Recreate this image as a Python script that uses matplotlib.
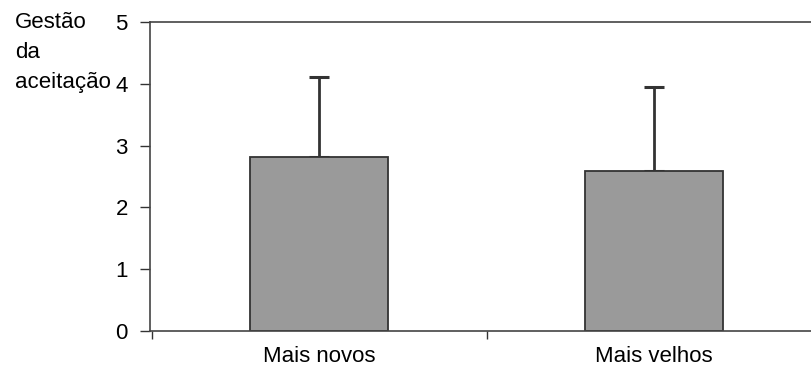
import matplotlib
matplotlib.use("Agg")
import matplotlib.pyplot as plt
import numpy as np

categories = ["Mais novos", "Mais velhos"]
means = [2.82, 2.59]
errors = [1.29, 1.36]
yticks = [0, 1, 2, 3, 4, 5]
ylabel = "Gestão\nda\naceitação"

plt.rcParams['font.family'] = ['Liberation Sans', 'DejaVu Sans']

fig = plt.figure(figsize=(8.11, 3.72), dpi=100)
W, H = 811, 372
left, right, top, bottom = 150, 811, 22, 331
ax = fig.add_axes([left / W, 1 - bottom / H, (right - left) / W, (bottom - top) / H])

x = np.arange(len(categories))
ax.bar(x, means, width=0.41, color='#9a9a9a', edgecolor='#333333', linewidth=1.3, zorder=2)
ax.errorbar(x, means, yerr=[np.zeros(len(means)), errors], fmt='none',
            ecolor='#333333', elinewidth=2, capsize=7, capthick=2.2, zorder=1)

cat_w = 335.0
ax.set_xlim(-0.5 - 1.5 / cat_w, -0.5 - 1.5 / cat_w + (right - left) / cat_w)
ax.set_ylim(0, 5)
ax.set_yticks(yticks)
ax.set_yticklabels([str(t) for t in yticks], fontsize=16)
ax.set_xticks(x)
ax.set_xticklabels(categories, fontsize=16)
ax.tick_params(axis='x', length=0, pad=11)
ax.set_xticks([-0.5, 0.5], minor=True)
ax.tick_params(axis='x', which='minor', length=6, width=1, direction='out', color='#333333')
ax.tick_params(axis='y', length=7, width=1, direction='out', pad=9, color='#333333')

for s in ['left', 'bottom', 'top']:
    ax.spines[s].set_color('#444444')
    ax.spines[s].set_linewidth(1.2)
ax.spines['right'].set_visible(False)

fig.text(15 / W, 1 - 12 / H, ylabel, fontsize=16, va='top', ha='left', linespacing=1.55)

fig.savefig("out.png", dpi=100)
